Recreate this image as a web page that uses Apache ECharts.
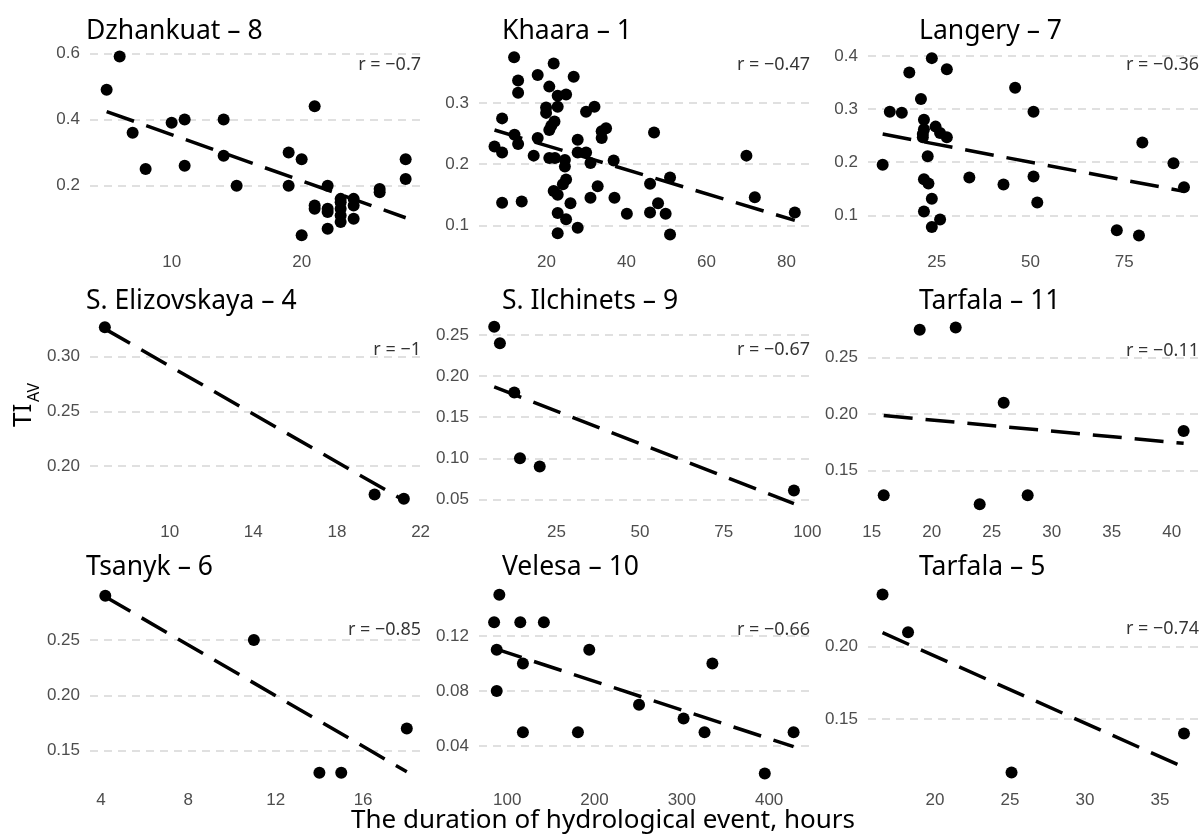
<!DOCTYPE html>
<html>
<head>
<meta charset="utf-8">
<script src="https://cdn.jsdelivr.net/npm/echarts@6/dist/echarts.min.js"></script>
<style>
html,body{margin:0;padding:0;background:#ffffff;}
#chart{width:1203px;height:834px;}
</style>
</head>
<body>
<div id="chart"></div>
<script>
// ---------- data ----------
const panelNames = ['Dzhankuat – 8','Khaara – 1','Langery – 7','S. Elizovskaya – 4','S. Ilchinets – 9','Tarfala – 11','Tsanyk – 6','Velesa – 10','Tarfala – 5'];
const rLabels = ['r = −0.7','r = −0.47','r = −0.36','r = −1','r = −0.67','r = −0.11','r = −0.85','r = −0.66','r = −0.74'];

const dzhankuat = [[5,0.49],[6,0.59],[7,0.36],[8,0.25],[10,0.39],[11,0.40],[11,0.26],[14,0.40],[14,0.29],[15,0.20],[19,0.30],[19,0.20],[20,0.28],[20,0.05],[21,0.44],[21,0.14],[21,0.13],[22,0.20],[22,0.13],[22,0.12],[22,0.07],[23,0.16],[23,0.15],[23,0.13],[23,0.11],[23,0.09],[24,0.16],[24,0.14],[24,0.10],[26,0.19],[26,0.18],[28,0.28],[28,0.22]];
const khaara = [[11.9,0.375],[21.8,0.365],[17.8,0.346],[26.8,0.343],[12.9,0.337],[12.9,0.317],[20.7,0.327],[22.8,0.312],[24.9,0.314],[22.8,0.294],[19.9,0.293],[19.9,0.284],[32,0.294],[29.9,0.286],[8.9,0.275],[22,0.27],[21.2,0.263],[20.7,0.256],[34.9,0.259],[33.8,0.254],[33.8,0.243],[46.9,0.252],[12,0.248],[12.9,0.233],[7,0.229],[8.9,0.219],[17.8,0.243],[27.8,0.24],[16.8,0.214],[20.7,0.21],[22.1,0.21],[24.6,0.207],[27.8,0.219],[29.9,0.219],[24.6,0.196],[31,0.202],[36.8,0.206],[24.9,0.175],[24.1,0.167],[21.8,0.156],[22.8,0.15],[32.8,0.164],[8.9,0.137],[13.8,0.139],[31,0.145],[37,0.145],[26,0.136],[22.8,0.12],[24.9,0.11],[27.8,0.096],[22.8,0.087],[40.1,0.119],[45.9,0.168],[45.9,0.121],[47.9,0.136],[49.8,0.119],[50.9,0.178],[50.9,0.085],[70,0.214],[72.1,0.146],[82.1,0.121]];
const langery = [[10.6,0.195],[12.5,0.295],[15.7,0.293],[17.7,0.369],[20.8,0.319],[21.6,0.28],[21.6,0.262],[21.3,0.253],[21.3,0.247],[22.6,0.211],[21.6,0.168],[22.8,0.16],[23.7,0.131],[21.6,0.107],[23.7,0.396],[23.7,0.078],[25.9,0.092],[24.7,0.267],[25.9,0.255],[27.7,0.247],[27.7,0.375],[33.7,0.171],[42.8,0.158],[45.9,0.34],[50.8,0.295],[50.8,0.173],[51.8,0.124],[73,0.072],[78.9,0.062],[79.8,0.237],[88.1,0.198],[90.9,0.153]];
const elizovskaya = [[6.9,0.327],[19.8,0.174],[21.2,0.17]];
const ilchinets = [[6.4,0.26],[8.1,0.24],[12.4,0.18],[14.1,0.10],[20,0.09],[96,0.061]];
const tarfala11 = [[16,0.128],[19,0.275],[22,0.277],[24,0.12],[26,0.21],[28,0.128],[41,0.185]];
const tsanyk = [[4.2,0.29],[11,0.25],[14,0.13],[15,0.13],[18,0.17]];
const velesa = [[91,0.15],[85,0.13],[88,0.11],[88,0.08],[115,0.13],[142,0.13],[118,0.10],[118,0.05],[181,0.05],[194,0.11],[251,0.07],[302,0.06],[326,0.05],[335,0.10],[395,0.02],[428,0.05]];
const tarfala5 = [[16.5,0.236],[18.2,0.21],[25.1,0.113],[36.6,0.14]];

// dashed trend lines: endpoints
const trendDzhankuat = [[5,0.424],[28,0.103]];
const trendKhaara = [[7,0.256],[82.1,0.108]];
const trendLangery = [[10.6,0.253],[90.9,0.145]];
const trendElizovskaya = [[6.9,0.3255],[21.2,0.1686]];
const trendIlchinets = [[6.4,0.187],[96,0.0448]];
const trendTarfala11 = [[16,0.1987],[41,0.174]];
const trendTsanyk = [[4.2,0.289],[18,0.131]];
const trendVelesa = [[85,0.111],[428,0.0395]];
const trendTarfala5 = [[16.5,0.2097],[36.6,0.1166]];

// axis ranges and tick labels
const xLimits = [[3.72,29.18],[3.12,85.9],[6.69,94.9],[6.19,22.02],[1.85,100.8],[14.69,42.28],[3.5,18.65],[67.7,446.8],[15.53,37.6]];
const yLimits = [[0.0236,0.613],[0.0693,0.3886],[0.0459,0.4132],[0.1566,0.335],[0.0329,0.2701],[0.1117,0.2849],[0.1222,0.2983],[0.0142,0.156],[0.1068,0.2416]];
const xTickLabels = [['10','20'],['20','40','60','80'],['25','50','75'],['10','14','18','22'],['25','50','75','100'],['15','20','25','30','35','40'],['4','8','12','16'],['100','200','300','400'],['20','25','30','35']];
const yTickLabels = [['0.2','0.4','0.6'],['0.1','0.2','0.3'],['0.1','0.2','0.3','0.4'],['0.20','0.25','0.30'],['0.05','0.10','0.15','0.20','0.25'],['0.15','0.20','0.25'],['0.15','0.20','0.25'],['0.04','0.08','0.12'],['0.15','0.20']];
const rLabelY = [0.565,0.3626,0.383,0.306,0.2323,0.2564,0.259,0.1247,0.2122];

const xAxisTitle = 'The duration of hydrological event, hours';
const yAxisTitleMain = 'TI';
const yAxisTitleSub = 'AV';

// ---------- build chart ----------
const pointSets = [dzhankuat,khaara,langery,elizovskaya,ilchinets,tarfala11,tsanyk,velesa,tarfala5];
const trendSets = [trendDzhankuat,trendKhaara,trendLangery,trendElizovskaya,trendIlchinets,trendTarfala11,trendTsanyk,trendVelesa,trendTarfala5];

const colLeft = [90,479,868];
const colWidth = 331;
const rowTop = [49,318.5,586.5];
const rowHeight = 195;
const titleLeft = [86,502,919];
const titleY = [30,300,566];

const TEXT_FONT = '"Noto Sans", "DejaVu Sans", sans-serif';
const TICK_FONT = '"Liberation Sans", Arial, sans-serif';

function decimals(s){ const i = s.indexOf('.'); return i < 0 ? 0 : s.length - i - 1; }

const grids = [], xAxes = [], yAxes = [], series = [], graphics = [];
for (let i = 0; i < 9; i++) {
  const r = Math.floor(i / 3), c = i % 3;
  grids.push({left: colLeft[c], top: rowTop[r], width: colWidth, height: rowHeight, containLabel: false});
  const xVals = xTickLabels[i].map(Number);
  const yVals = yTickLabels[i].map(Number);
  const xd = decimals(xTickLabels[i][0]);
  const yd = decimals(yTickLabels[i][0]);
  xAxes.push({
    type: 'value', gridIndex: i, min: xLimits[i][0], max: xLimits[i][1],
    axisLine: {show: false}, splitLine: {show: false},
    axisTick: {show: false, customValues: xVals},
    axisLabel: {customValues: xVals, color: '#4d4d4d', fontSize: 17, fontFamily: TICK_FONT, margin: 10,
      formatter: v => Number(v).toFixed(xd)}
  });
  yAxes.push({
    type: 'value', gridIndex: i, min: yLimits[i][0], max: yLimits[i][1],
    axisLine: {show: false},
    axisTick: {show: false, customValues: yVals},
    splitLine: {show: true, lineStyle: {color: '#d6d6d6', width: 1.6, type: [8, 6]}},
    axisLabel: {customValues: yVals, color: '#4d4d4d', fontSize: 17, fontFamily: TICK_FONT, margin: 10,
      formatter: v => Number(v).toFixed(yd)}
  });
  series.push({
    type: 'scatter', xAxisIndex: i, yAxisIndex: i, data: pointSets[i],
    symbol: 'circle', symbolSize: 12, itemStyle: {color: '#000000', opacity: 1}, silent: true, z: 3
  });
  series.push({
    type: 'line', xAxisIndex: i, yAxisIndex: i, data: trendSets[i],
    symbol: 'none', lineStyle: {color: '#000000', width: 3.5, type: [29, 13], cap: 'butt'}, silent: true, z: 4
  });
  series.push({
    type: 'scatter', xAxisIndex: i, yAxisIndex: i, clip: false, silent: true,
    data: [[xLimits[i][1], rLabelY[i]]], symbolSize: 0,
    label: {show: true, position: 'left', distance: 0, formatter: rLabels[i],
      color: '#000000', fontSize: 18, fontFamily: TEXT_FONT}
  });
  graphics.push({
    type: 'text', left: titleLeft[c], top: titleY[r] - 12,
    style: {text: panelNames[i], fill: '#000000', font: '26.5px ' + TEXT_FONT}
  });
}

graphics.push({
  type: 'text', x: 603, y: 821,
  style: {text: xAxisTitle, fill: '#000000', font: '26px ' + TEXT_FONT, textAlign: 'center', textVerticalAlign: 'middle'}
});
graphics.push({
  type: 'text', x: 24, y: 427, rotation: Math.PI / 2,
  style: {text: yAxisTitleMain, fill: '#000000', font: '26px ' + TEXT_FONT, textAlign: 'left', textVerticalAlign: 'middle'}
});
graphics.push({
  type: 'text', x: 34, y: 402, rotation: Math.PI / 2,
  style: {text: yAxisTitleSub, fill: '#000000', font: '16px ' + TEXT_FONT, textAlign: 'left', textVerticalAlign: 'middle'}
});

const chart = echarts.init(document.getElementById('chart'), null, {renderer: 'canvas'});
chart.setOption({
  animation: false,
  backgroundColor: '#ffffff',
  grid: grids,
  xAxis: xAxes,
  yAxis: yAxes,
  series: series,
  graphic: graphics
});
</script>
</body>
</html>
